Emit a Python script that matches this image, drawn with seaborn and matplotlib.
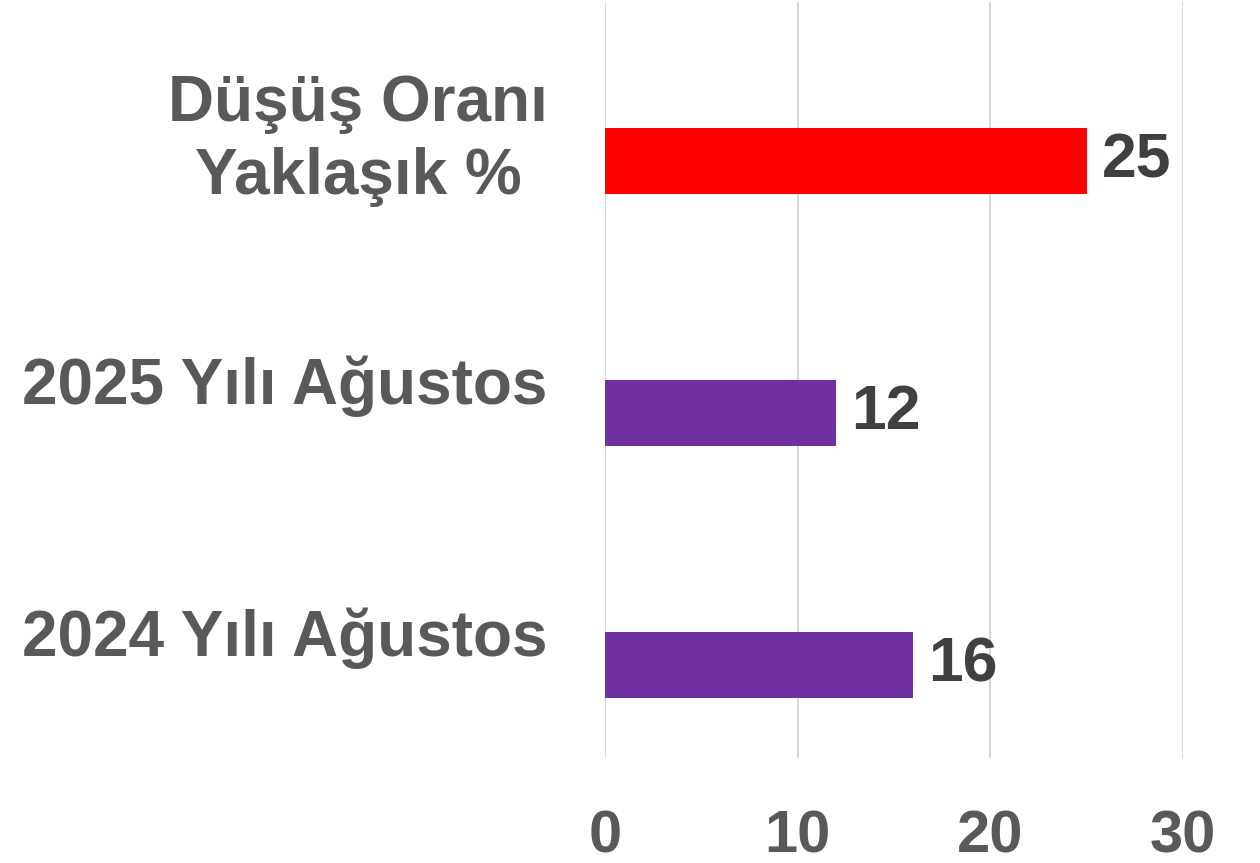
import pandas as pd
import numpy as np
import matplotlib
matplotlib.use("Agg")
import matplotlib.pyplot as plt
import seaborn as sns

# data
categories = ["Düşüş Oranı\nYaklaşık %", "2025 Yılı Ağustos", "2024 Yılı Ağustos"]
values = [25, 12, 16]
bar_colors = ["#ff0000", "#7030a0", "#7030a0"]
x_ticks = [0, 10, 20, 30]

# Excel-style clustered bars: an empty series takes the upper slot
df = pd.DataFrame({
    "kategori": categories * 2,
    "seri": ["bos"] * 3 + ["veri"] * 3,
    "deger": [np.nan] * 3 + values,
})

sns.set_style("white")
plt.rcParams["font.family"] = ["Liberation Sans", "DejaVu Sans"]

fig = plt.figure(figsize=(12.6, 8.63), dpi=100)
ax = fig.add_axes([0.480, 0.122, 0.459, 0.876])

sns.barplot(data=df, y="kategori", x="deger", hue="seri", hue_order=["bos", "veri"],
            palette={"bos": "#7030a0", "veri": "#7030a0"}, width=0.524,
            orient="h", errorbar=None, legend=False, ax=ax)

cont = ax.containers[-1]
for bar, c in zip(cont, bar_colors):
    bar.set_facecolor(c)
    bar.set_linewidth(0)

ax.bar_label(cont, labels=[str(v) for v in values], padding=11,
             fontsize=45, fontweight="bold", color="#404040")

ax.set_xlim(0, 30)
ax.set_xticks(x_ticks)
ax.set_xticklabels([str(t) for t in x_ticks])
ax.grid(axis="x", color="#d9d9d9", linewidth=1.5)
ax.set_axisbelow(True)
for s in ax.spines.values():
    s.set_visible(False)

ax.set_xlabel("")
ax.set_ylabel("")
ax.tick_params(axis="x", length=0, pad=37, labelsize=43, labelcolor="#595959")
ax.tick_params(axis="y", length=0, pad=41, labelsize=46, labelcolor="#595959")
for lab in ax.get_xticklabels() + ax.get_yticklabels():
    lab.set_fontweight("bold")
for lab in ax.get_yticklabels():
    lab.set_multialignment("center")
    lab.set_linespacing(1.27)

plt.savefig("out.png", dpi=100)
